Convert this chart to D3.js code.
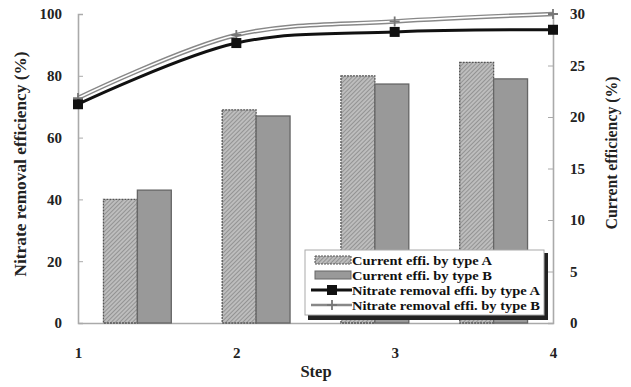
<!doctype html>
<html>
<head>
<meta charset="utf-8">
<script src="https://d3js.org/d3.v7.min.js"></script>
<style>
  body { margin: 0; background: #fff; }
  text { font-family: 'Liberation Serif', 'Times New Roman', serif; }
  .tick text { font-size: 15px; font-weight: bold; fill: #222; }
  .title { font-size: 16.5px; font-weight: bold; fill: #222; }
  .leg { font-size: 12.5px; font-weight: bold; fill: #111; }
</style>
</head>
<body>
<svg id="chart" width="631" height="387"></svg>
<script>
// data
const steps = [1, 2, 3, 4];
const nitrateA = [70.8, 90.6, 94.2, 94.9];   // left axis, %
const nitrateB = [72.8, 93.2, 97.6, 100];
const currentA = [12.0, 20.7, 24.0, 25.3];   // right axis, %
const currentB = [12.9, 20.1, 23.2, 23.7];
const leftTicks = [0, 20, 40, 60, 80, 100];
const rightTicks = [0, 5, 10, 15, 20, 25, 30];
const legendLabels = ["Current effi. by type A", "Current effi. by type B",
                      "Nitrate removal effi. by type A", "Nitrate removal effi. by type B"];

const svg = d3.select("#chart");
const pLeft = 78, pRight = 553, pTop = 14, pBottom = 323;

const x = d3.scaleLinear().domain([1, 4]).range([pLeft, pRight]);
const xBand = d3.scaleBand().domain(steps).range([pLeft, pRight]);
const xSub = d3.scaleBand().domain(["A", "B"]).range([0, xBand.bandwidth()])
  .paddingInner(0).paddingOuter(0.75);
const yL = d3.scaleLinear().domain([0, 100]).range([pBottom, pTop]);
const yR = d3.scaleLinear().domain([0, 30]).range([pBottom, pTop]);

// hatch pattern for type A bars
const defs = svg.append("defs");
const pat = defs.append("pattern").attr("id", "hatch")
  .attr("patternUnits", "userSpaceOnUse").attr("width", 3).attr("height", 3)
  .attr("patternTransform", "rotate(45)");
pat.append("rect").attr("width", 3).attr("height", 3).attr("fill", "#bdbdbd");
pat.append("line").attr("x1", 0).attr("y1", 0).attr("x2", 0).attr("y2", 3)
  .attr("stroke", "#777").attr("stroke-width", 1.2);

// axes
const axL = svg.append("g").attr("transform", `translate(${pLeft},0)`)
  .call(d3.axisRight(yL).tickValues(leftTicks).tickSize(5).tickFormat(d3.format("d")));
axL.selectAll("text").attr("x", -16).attr("text-anchor", "end");
const axR = svg.append("g").attr("transform", `translate(${pRight},0)`)
  .call(d3.axisLeft(yR).tickValues(rightTicks).tickSize(5).tickFormat(d3.format("d")));
axR.selectAll("text").attr("x", 17).attr("text-anchor", "start");
const axB = svg.append("g").attr("transform", `translate(0,${pBottom})`)
  .call(d3.axisBottom(x).tickValues(steps).tickSize(0).tickFormat(d3.format("d")));
axB.selectAll("text").attr("y", 24);
[axL, axR, axB].forEach(a => {
  a.select(".domain").attr("stroke", "#aaa").attr("stroke-width", 1.6);
  a.selectAll(".tick line").attr("stroke", "#aaa");
});

// bars
const barData = [];
steps.forEach((s, i) => {
  barData.push({ s: s, k: "A", v: currentA[i] });
  barData.push({ s: s, k: "B", v: currentB[i] });
});
svg.append("g").selectAll("rect").data(barData).join("rect")
  .attr("x", d => xBand(d.s) + xSub(d.k))
  .attr("width", xSub.bandwidth())
  .attr("y", d => yR(d.v))
  .attr("height", d => pBottom - yR(d.v))
  .attr("fill", d => d.k === "A" ? "url(#hatch)" : "#999")
  .attr("stroke", d => d.k === "A" ? "#555" : "#666")
  .attr("stroke-width", 1.3)
  .attr("stroke-dasharray", d => d.k === "A" ? "2,1" : null);

// lines
const line = (arr) => d3.line().x((d, i) => x(steps[i])).y(d => yL(d))
  .curve(d3.curveCatmullRom.alpha(0.5))(arr);
svg.append("path").attr("d", line(nitrateB)).attr("fill", "none")
  .attr("stroke", "#888").attr("stroke-width", 4.5);
svg.append("path").attr("d", line(nitrateB)).attr("fill", "none")
  .attr("stroke", "#fff").attr("stroke-width", 1.6);
svg.append("path").attr("d", line(nitrateA)).attr("fill", "none")
  .attr("stroke", "#111").attr("stroke-width", 3);
svg.append("g").selectAll("path").data(nitrateB).join("path")
  .attr("transform", (d, i) => `translate(${x(steps[i])},${yL(d)})`)
  .attr("d", "M-5,0H5M0,-5V5").attr("stroke", "#777").attr("stroke-width", 1.8);
svg.append("g").selectAll("rect").data(nitrateA).join("rect")
  .attr("x", (d, i) => x(steps[i]) - 5).attr("y", d => yL(d) - 5)
  .attr("width", 10).attr("height", 10).attr("fill", "#111");

// titles
svg.append("text").attr("class", "title").attr("text-anchor", "middle")
  .attr("transform", "translate(26,164) rotate(-90)")
  .attr("textLength", 225).attr("lengthAdjust", "spacingAndGlyphs")
  .text("Nitrate removal efficiency (%)");
svg.append("text").attr("class", "title").attr("text-anchor", "middle")
  .attr("transform", "translate(617,153) rotate(-90)")
  .attr("textLength", 153).attr("lengthAdjust", "spacingAndGlyphs")
  .text("Current efficiency (%)");
svg.append("text").attr("class", "title").attr("text-anchor", "middle")
  .attr("x", 316).attr("y", 377).text("Step");

// legend
const lg = svg.append("g").attr("transform", "translate(305,250)");
lg.append("rect").attr("x", 3).attr("y", 3).attr("width", 240).attr("height", 67).attr("fill", "#222");
lg.append("rect").attr("width", 239).attr("height", 65).attr("fill", "#fff")
  .attr("stroke", "#aaa").attr("stroke-width", 1);
const rows = [10, 25, 40, 55];
lg.append("rect").attr("x", 10).attr("y", rows[0] - 4).attr("width", 36).attr("height", 8)
  .attr("fill", "url(#hatch)").attr("stroke", "#555").attr("stroke-dasharray", "2,1");
lg.append("rect").attr("x", 10).attr("y", rows[1] - 4).attr("width", 36).attr("height", 8)
  .attr("fill", "#999").attr("stroke", "#666");
lg.append("line").attr("x1", 6).attr("x2", 47).attr("y1", rows[2]).attr("y2", rows[2])
  .attr("stroke", "#111").attr("stroke-width", 3);
lg.append("rect").attr("x", 22).attr("y", rows[2] - 5).attr("width", 10).attr("height", 10).attr("fill", "#111");
lg.append("line").attr("x1", 6).attr("x2", 47).attr("y1", rows[3]).attr("y2", rows[3])
  .attr("stroke", "#888").attr("stroke-width", 2.5);
lg.append("path").attr("transform", `translate(27,${rows[3]})`)
  .attr("d", "M-5,0H5M0,-5V5").attr("stroke", "#777").attr("stroke-width", 1.8);
const legW = [140, 140, 188, 188];
lg.selectAll("text.leg").data(legendLabels).join("text").attr("class", "leg")
  .attr("x", 47).attr("y", (d, i) => rows[i] + 4.5)
  .attr("textLength", (d, i) => legW[i]).attr("lengthAdjust", "spacingAndGlyphs")
  .text(d => d);
</script>
</body>
</html>
